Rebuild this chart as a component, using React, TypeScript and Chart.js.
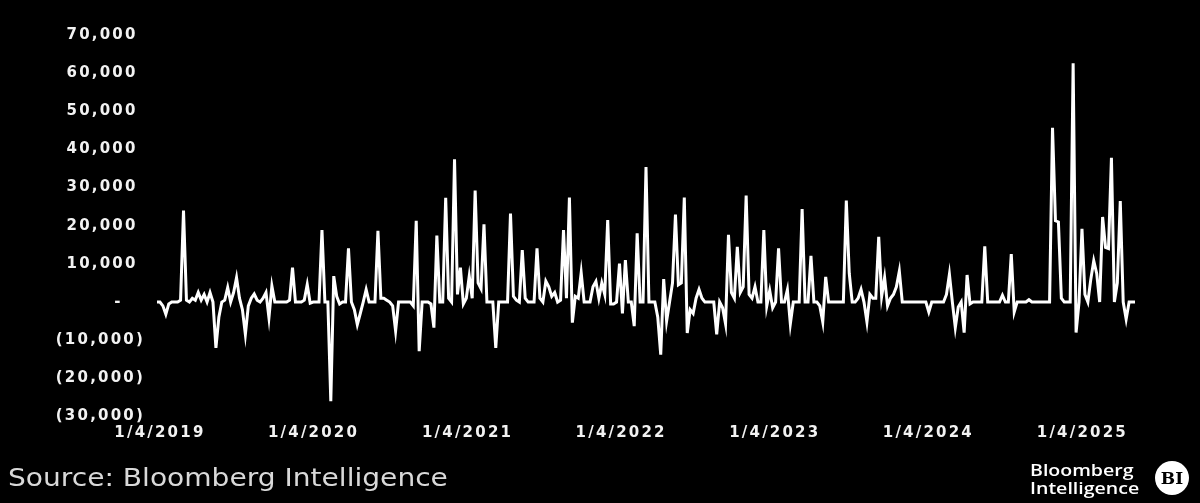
import React, { useEffect, useRef } from "react";
import { Chart, registerables } from "chart.js";

Chart.register(...registerables);

// Weekly observations, first week ending 2018-12-28
const seriesStart = "2018-12-28";

const w2018 = [0];
const w2019 = [
  0, -1000, -3200, -500, 0, 0, 0, 500, 24000, 500,
  0, 1000, 500, 2500, 500, 2000, 0, 2500, 0, -12000,
  -4000, 0, 500, 3800, 0, 2500, 6400, 1000, -2000, -8500,
  -1000, 1000, 2100, 500, 0, 1000, 2500, -4100, 4200, 0,
  0, 0, 0, 0, 500, 9000, 0, 0, 0, 500,
  4600, -300,
];
const w2020 = [
  0, 0, 0, 18900, 0, 0, -26000, 6800, 1500, -500,
  0, 0, 14100, 0, -2000, -5900, -3000, 0, 3300, 0,
  0, 0, 18700, 1000, 1000, 500, 0, -1000, -7600, 0,
  0, 0, 0, 0, -1000, 21300, -12900, 0, 0, 0,
  -500, -6700, 17400, 0, 0, 27300, 1000, 0, 37400, 2000,
  9000, -500,
];
const w2021 = [
  1000, 6800, 1000, 29200, 5000, 3500, 20400, 0, 0, 0,
  -12000, 0, 0, 0, 0, 23200, 1500, 500, 0, 13600,
  1000, 0, 0, 0, 14100, 1000, 0, 5500, 4000, 1500,
  2500, 0, 500, 18900, 1000, 27400, -5400, 1500, 1000, 7700,
  0, 0, 0, 4000, 5400, 1000, 5000, 2000, 21500, -500,
  -500, 0, 10100,
];
const w2022 = [
  -3000, 11000, 0, 0, -6300, 18000, 0, 0, 35400, 0,
  0, 0, -4000, -13800, 6000, -5000, 0, 5000, 22900, 4500,
  5000, 27400, -8100, -2000, -3000, 1000, 3300, 1000, 0, 0,
  0, 0, -8500, 0, -1500, -5700, 17600, 2500, 1000, 14500,
  2500, 4000, 27900, 2000, 1000, 4000, 0, 0, 18900, -1000,
  3000, -1500,
];
const w2023 = [
  0, 14100, 0, 0, 3200, -5700, 0, 0, 0, 24400,
  0, 0, 12100, 0, 0, -1000, -5200, 6600, 0, 0,
  0, 0, 0, 0, 26600, 7500, 0, 0, 1000, 3300,
  0, -5200, 2000, 1000, 1000, 17100, 1500, 6400, -1000, 1000,
  2000, 4000, 8100, 0, 0, 0, 0, 0, 0, 0,
  0, 0,
];
const w2024 = [
  -2600, 0, 0, 0, 0, 0, 2000, 7300, 0, -6700,
  -1300, 0, -8000, 7100, -500, 0, 0, 0, 0, 14600,
  0, 0, 0, 0, 0, 1800, 0, 0, 12600, -2600,
  0, 0, 0, 0, 600, 0, 0, 0, 0, 0,
  0, 0, 45700, 21300, 21000, 1000, 0, 0, 0, 62600,
  -8000, 0,
];
const w2025 = [
  19200, 2000, 0, 6000, 10800, 7500, 0, 22300, 14300, 14000,
  37800, 0, 5000, 26500, 0, -4500, 0, 0, 0,
];

const xTickLabels = ["1/4/2019", "1/4/2020", "1/4/2021", "1/4/2022", "1/4/2023", "1/4/2024", "1/4/2025"];
const yMin = -30000;
const yMax = 70000;
const yStep = 10000;

const weeklyValues = [...w2018, ...w2019, ...w2020, ...w2021, ...w2022, ...w2023, ...w2024, ...w2025];

const DAY_MS = 86400000;
const startMs = Date.parse(seriesStart + "T00:00:00Z");
const tickWeeks = xTickLabels.map((l) => {
  const [m, d, y] = l.split("/").map(Number);
  return (Date.UTC(y, m - 1, d) - startMs) / (7 * DAY_MS);
});

function formatY(v: number): string {
  if (v === 0) return "-   ";
  const s = Math.abs(v).toLocaleString("en-US");
  return v < 0 ? `(${s})` : `${s} `;
}

const LETTER_SPACING = "2.2px";

export default function App() {
  const ref = useRef<HTMLCanvasElement | null>(null);

  useEffect(() => {
    document.body.style.margin = "0";
    document.body.style.background = "#000";
    const canvas = ref.current;
    if (!canvas) return;

    const spacingPlugin = {
      id: "letterSpacing",
      beforeUpdate(c: any) {
        c.ctx.letterSpacing = LETTER_SPACING;
      },
      beforeDraw(c: any) {
        c.ctx.letterSpacing = LETTER_SPACING;
      },
    };

    const tickFont = { family: '"DejaVu Sans", Verdana, sans-serif', size: 15, weight: "bold" as const };

    const chart = new Chart(canvas, {
      type: "line",
      data: {
        datasets: [
          {
            data: weeklyValues.map((y, x) => ({ x, y })),
            borderColor: "#ffffff",
            borderWidth: 3,
            pointRadius: 0,
            tension: 0,
            fill: false,
            borderJoinStyle: "miter",
          },
        ],
      },
      options: {
        animation: false,
        responsive: true,
        maintainAspectRatio: false,
        layout: { padding: { top: 35, right: 65, left: 0, bottom: 0 } },
        plugins: { legend: { display: false }, tooltip: { enabled: false } },
        scales: {
          x: {
            type: "linear",
            min: 0,
            max: weeklyValues.length - 1,
            grid: { display: false, drawTicks: false },
            border: { display: false },
            afterBuildTicks: (s: any) => {
              s.ticks = tickWeeks.map((value) => ({ value }));
            },
            afterFit: (s: any) => {
              s.height = 86.5;
            },
            ticks: {
              autoSkip: false,
              maxRotation: 0,
              minRotation: 0,
              padding: 8,
              color: "#f2f2f2",
              font: tickFont,
              callback: (_v: any, i: number) => xTickLabels[i],
            },
          },
          y: {
            type: "linear",
            min: yMin,
            max: yMax,
            grid: { display: false, drawTicks: false },
            border: { display: false },
            afterFit: (s: any) => {
              s.width = 157;
            },
            ticks: {
              stepSize: yStep,
              padding: 12,
              color: "#f2f2f2",
              font: tickFont,
              callback: (v: any) => formatY(Number(v)),
            },
          },
        },
      },
      plugins: [spacingPlugin],
    });

    return () => chart.destroy();
  }, []);

  return (
    <div style={{ position: "absolute", left: 0, top: 0, width: 1200, height: 503, background: "#000", overflow: "hidden" }}>
      <div style={{ position: "absolute", left: 0, top: 0, width: 1200, height: 503 }}>
        <canvas ref={ref} />
      </div>
      <div
        style={{
          position: "absolute",
          left: 8,
          top: 466,
          font: '24px "DejaVu Sans", Verdana, sans-serif',
          lineHeight: "24px",
          color: "#d9d9d9",
          whiteSpace: "nowrap",
          transform: "scaleX(1.17)",
          transformOrigin: "left top",
        }}
      >
        Source: Bloomberg Intelligence
      </div>
      <div
        style={{
          position: "absolute",
          left: 1030,
          top: 461,
          font: '600 17px "Open Sans", sans-serif',
          lineHeight: "18px",
          color: "#ffffff",
          whiteSpace: "nowrap",
          transform: "scaleX(1.15)",
          transformOrigin: "left top",
        }}
      >
        Bloomberg
        <br />
        Intelligence
      </div>
      <div
        style={{
          position: "absolute",
          left: 1155,
          top: 461,
          width: 34,
          height: 34,
          borderRadius: "50%",
          background: "#ffffff",
          color: "#000000",
          font: 'bold 17px "DejaVu Serif", serif',
          display: "flex",
          alignItems: "center",
          justifyContent: "center",
        }}
      >
        BI
      </div>
    </div>
  );
}
